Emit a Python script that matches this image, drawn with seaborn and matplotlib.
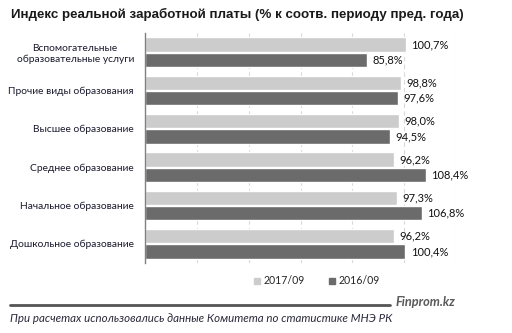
import matplotlib
matplotlib.use("Agg")
import matplotlib.pyplot as plt
import seaborn as sns
import pandas as pd
from matplotlib.lines import Line2D

categories = ["Вспомогательные\nобразовательные услуги", "Прочие виды образования",
              "Высшее образование", "Среднее образование",
              "Начальное образование", "Дошкольное образование"]
series_names = ["2017/09", "2016/09"]
values_2017 = [100.7, 98.8, 98.0, 96.2, 97.3, 96.2]
values_2016 = [85.8, 97.6, 94.5, 108.4, 106.8, 100.4]
colors = ["#cccccc", "#6b6b6b"]

df = pd.DataFrame({
    "category": categories * 2,
    "value": values_2017 + values_2016,
    "period": [series_names[0]] * len(categories) + [series_names[1]] * len(categories),
})

sns.set_theme(style="white")
plt.rcParams["font.family"] = ["Lato", "DejaVu Sans"]

fig = plt.figure(figsize=(5.12, 3.33), dpi=100)
ax = fig.add_axes([145 / 512, 1 - 263 / 333, (456 - 145) / 512, (263 - 33) / 333])

sns.barplot(data=df, y="category", x="value", hue="period", orient="h",
            palette=colors, order=categories, hue_order=series_names,
            width=0.8, gap=0.06, ax=ax, legend=False, saturation=1)

ax.set_xlim(0, 120)
ax.set_xticks(range(20, 121, 20))
ax.set_xticklabels([])
ax.tick_params(axis="x", length=0)
ax.tick_params(axis="y", length=0, pad=8, labelsize=7.4, labelcolor="#1a1a2e")
for lbl in ax.get_yticklabels():
    lbl.set_multialignment("center")
ax.xaxis.grid(True, color="#d9d9d9", linestyle=(0, (4, 3)), linewidth=0.8)
ax.set_axisbelow(True)
for s in ["top", "right", "bottom"]:
    ax.spines[s].set_visible(False)
ax.spines["left"].set_color("#808080")
ax.spines["left"].set_linewidth(1.0)
ax.set_xlabel("")
ax.set_ylabel("")

all_vals = [values_2017, values_2016]
for cont, vals in zip(ax.containers, all_vals):
    ax.bar_label(cont, labels=[f"{v:.1f}%".replace(".", ",") for v in vals],
                 padding=4, fontsize=8, color="#111111")

handles = [Line2D([0], [0], marker="s", linestyle="", markersize=4,
                  markerfacecolor=c, markeredgecolor=c) for c in colors]
fig.legend(handles, series_names, loc="center", bbox_to_anchor=(316 / 512, 1 - 281 / 333),
           ncol=2, frameon=False, fontsize=7.6, handletextpad=0.2, columnspacing=2.2,
           handlelength=0.8, borderpad=0)

fig.text(11 / 512, 1 - 14 / 333,
         "Индекс реальной заработной платы (% к соотв. периоду пред. года)",
         fontsize=9.6, fontweight="bold", family=["Liberation Sans", "DejaVu Sans"],
         color="#1a1a1a", va="center", ha="left")

fig.add_artist(Line2D([10 / 512, 390 / 512], [1 - 305 / 333, 1 - 305 / 333],
                      color="#555555", linewidth=2, transform=fig.transFigure))
fig.text(396 / 512, 1 - 302 / 333, "Finprom.kz", fontsize=9.2, fontweight="bold",
         style="italic", color="#5a5a5a", va="center", ha="left")
fig.text(10 / 512, 1 - 319 / 333,
         "При расчетах использовались данные Комитета по статистике МНЭ РК",
         fontsize=8.3, style="italic", color="#2a2a3a", va="center", ha="left")

fig.savefig("out.png", dpi=100)
